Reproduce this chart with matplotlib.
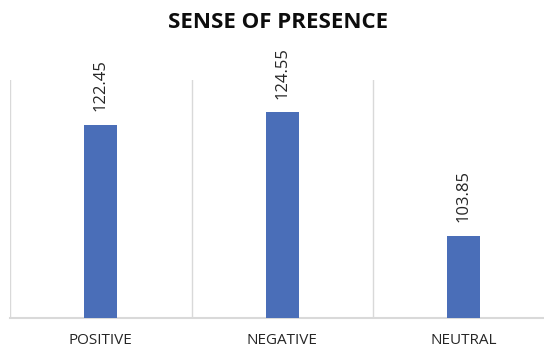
import matplotlib
matplotlib.use("Agg")
import matplotlib.pyplot as plt

categories = ["POSITIVE", "NEGATIVE", "NEUTRAL"]
values = [122.45, 124.55, 103.85]
labels = ["122.45", "124.55", "103.85"]

W, H = 544, 351
fig = plt.figure(figsize=(W / 100, H / 100), dpi=100)
fig.patch.set_facecolor("white")

left_px, right_px, top_px, bottom_px = 10, 554.5, 80, 318
ax = fig.add_axes([left_px / W, (H - bottom_px) / H,
                   (right_px - left_px) / W, (bottom_px - top_px) / H])
ax.set_xlim(-0.5, len(categories) - 0.5)
ax.set_ylim(90, 130)

x = list(range(len(categories)))
ax.bar(x, [v - 90 for v in values], bottom=90, width=0.18, color="#4A6EB8",
       zorder=3)

for xi, v, lab in zip(x, values, labels):
    ax.annotate(lab, (xi, v), xytext=(0, 10), textcoords="offset points",
                rotation=90, ha="center", va="bottom", fontsize=12,
                family="Open Sans", color="#262626")

grid_c = "#D9D9D9"
for b in [-0.5, 0.5, 1.5, 2.5]:
    ax.axvline(b, color=grid_c, lw=1.0, zorder=1)

for s in ["top", "right", "left"]:
    ax.spines[s].set_visible(False)
ax.spines["bottom"].set_color(grid_c)
ax.spines["bottom"].set_linewidth(1.5)

ax.set_yticks([])
ax.set_xticks(x)
ax.set_xticklabels(categories, fontsize=11, family="Open Sans",
                   color="#262626")
ax.tick_params(axis="x", length=0, pad=11)

fig.text(278 / W, 1 - 22 / H, "SENSE OF PRESENCE", ha="center", va="center",
         fontsize=16, fontweight="bold", family="Open Sans", color="#0D0D0D")

fig.savefig("out.png", dpi=100, facecolor="white")
